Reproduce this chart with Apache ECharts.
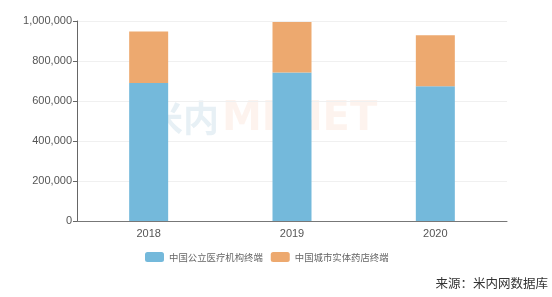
<!DOCTYPE html>
<html>
<head>
<meta charset="utf-8">
<script src="https://cdn.jsdelivr.net/npm/echarts@6/dist/echarts.min.js"></script>
<style>html,body{margin:0;padding:0;background:#fff;}#c{width:552px;height:297px;}</style>
</head>
<body>
<div id="c"></div>
<script>
var categories = ['2018', '2019', '2020'];
var publicMedical = [690000, 742000, 674000];
var retailPharmacy = [258000, 253000, 255000];
var seriesNames = ['中国公立医疗机构终端', '中国城市实体药店终端'];
var sourceText = '来源：米内网数据库';

var chart = echarts.init(document.getElementById('c'), null, {renderer: 'canvas'});
chart.setOption({
  animation: false,
  backgroundColor: '#fff',
  grid: {left: 77, right: 45, top: 21, bottom: 76, containLabel: false},
  legend: {
    data: seriesNames,
    top: 252,
    left: 145,
    padding: 0,
    itemWidth: 19,
    itemHeight: 10,
    itemGap: 8,
    textStyle: {color: '#666', fontSize: 9.4, fontFamily: 'Noto Sans CJK SC'}
  },
  graphic: [
    {type: 'text', left: 147, top: 100, z: 0, silent: true,
     style: {text: '米内', fill: 'rgba(120,170,200,0.18)', font: 'bold 36px "Noto Sans CJK SC"'}},
    {type: 'text', left: 222, top: 100, z: 0, silent: true,
     style: {text: 'MENET', fill: 'rgba(240,160,120,0.13)', font: 'bold 40px "DejaVu Sans"'}},
    {type: 'text', right: 4, bottom: 7, style: {text: sourceText, fill: '#333', font: '12.5px "Noto Sans CJK SC"'}}
  ],
  xAxis: {
    type: 'category',
    data: categories,
    axisLine: {lineStyle: {color: '#777'}},
    axisTick: {lineStyle: {color: '#777'}},
    axisLabel: {color: '#555', fontSize: 11, fontFamily: 'Liberation Sans', margin: 7}
  },
  yAxis: {
    type: 'value',
    min: 0,
    max: 1000000,
    interval: 200000,
    axisLine: {show: true, lineStyle: {color: '#666'}},
    axisTick: {show: true, length: 4, lineStyle: {color: '#666'}},
    splitLine: {lineStyle: {color: '#f0f0f0'}},
    axisLabel: {color: '#555', fontSize: 11, fontFamily: 'Liberation Sans', margin: 5,
      formatter: function (v) { return v.toLocaleString('en-US'); }}
  },
  series: [
    {name: seriesNames[0], type: 'bar', stack: 'total', barWidth: 39, data: publicMedical,
     itemStyle: {color: '#74b9db'}},
    {name: seriesNames[1], type: 'bar', stack: 'total', barWidth: 39, data: retailPharmacy,
     itemStyle: {color: '#eda96f'}}
  ]
});
</script>
</body>
</html>
